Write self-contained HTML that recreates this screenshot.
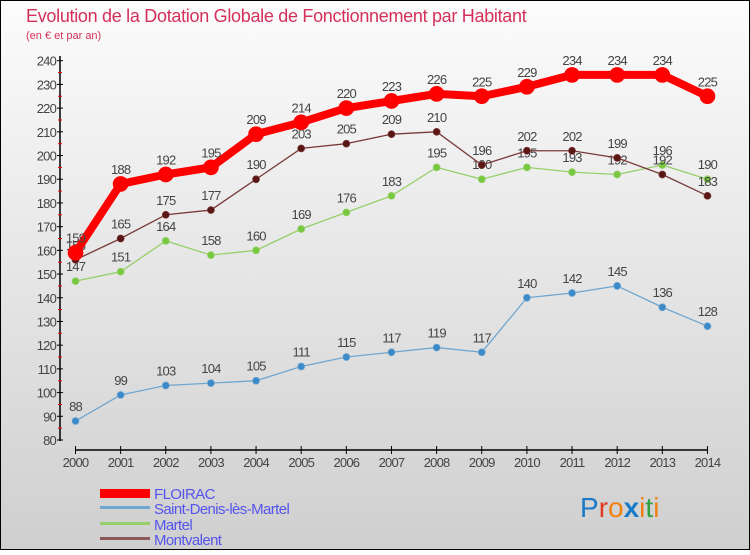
<!DOCTYPE html>
<html><head><meta charset="utf-8"><style>
body{margin:0;width:750px;height:550px;overflow:hidden;font-family:"Liberation Sans",sans-serif}
</style></head><body>
<svg id="chart" width="750" height="550" xmlns="http://www.w3.org/2000/svg">
<defs><linearGradient id="bg" x1="0" y1="0" x2="0" y2="1"><stop offset="0" stop-color="#fcfcfc"/><stop offset="1" stop-color="#cfcfcf"/></linearGradient></defs>
<rect x="0.5" y="0.5" width="749" height="549" fill="url(#bg)" stroke="#000"/>
<text x="26" y="22" font-size="18" fill="#d4305a" letter-spacing="-0.3">Evolution de la Dotation Globale de Fonctionnement par Habitant</text>
<text x="26" y="39" font-size="11" fill="#d4305a">(en € et par an)</text>
<g id="axes"></g><g id="series"></g>
<g>
<rect x="100" y="489" width="50" height="9" fill="#f00"/>
<text x="154" y="499" font-size="15" fill="#5555ee" letter-spacing="-0.6">FLOIRAC</text>
<rect x="100" y="506" width="50" height="3" fill="#6fa6d0"/>
<text x="154" y="514" font-size="15" fill="#5555ee" letter-spacing="-0.6">Saint-Denis-lès-Martel</text>
<rect x="100" y="522" width="50" height="3" fill="#95d06a"/>
<text x="154" y="530" font-size="15" fill="#5555ee" letter-spacing="-0.6">Martel</text>
<rect x="100" y="537" width="50" height="3" fill="#8a5a5a"/>
<text x="154" y="545" font-size="15" fill="#5555ee" letter-spacing="-0.6">Montvalent</text>
</g>
<text x="580" y="517" font-size="28"><tspan fill="#1a7ac8">P</tspan><tspan fill="#e03a20">r</tspan><tspan fill="#f08010">o</tspan><tspan fill="#1a7ac8" font-weight="bold">x</tspan><tspan fill="#f08010">i</tspan><tspan fill="#30a040">t</tspan><tspan fill="#f08010">i</tspan></text>
</svg>
<script>
const years=[2000,2001,2002,2003,2004,2005,2006,2007,2008,2009,2010,2011,2012,2013,2014];
const floirac=[159,188,192,195,209,214,220,223,226,225,229,234,234,234,225];
const saintDenis=[88,99,103,104,105,111,115,117,119,117,140,142,145,136,128];
const martel=[147,151,164,158,160,169,176,183,195,190,195,193,192,196,190];
const montvalent=[156,165,175,177,190,203,205,209,210,196,202,202,199,192,183];
const yTicks=[80,90,100,110,120,130,140,150,160,170,180,190,200,210,220,230,240];
const NS="http://www.w3.org/2000/svg";
const xs=i=>75.5+i*45.14;
const ys=v=>440-(v-80)*(379.3/160);
function mk(t,a,p){const e=document.createElementNS(NS,t);for(const k in a)e.setAttribute(k,a[k]);p.appendChild(e);return e;}
const ax=document.getElementById('axes');
let l=mk('line',{x1:60,y1:56,x2:60,y2:441,stroke:'#000','stroke-width':1.5},ax);


l=mk('line',{x1:75,y1:450,x2:708,y2:450,stroke:'#000','stroke-width':1.5},ax);


yTicks.forEach((v,i)=>{
  mk('line',{x1:57,y1:ys(v),x2:63,y2:ys(v),stroke:'#000'},ax);
  if(i<yTicks.length-1) mk('line',{x1:58,y1:ys(v+5),x2:62,y2:ys(v+5),stroke:'#e00'},ax);
  const t=mk('text',{x:56,y:ys(v)+5,'text-anchor':'end','font-size':13,fill:'#444','letter-spacing':'-0.8'},ax);
  t.textContent=v;
  
  
});
years.forEach((y,i)=>{
  mk('line',{x1:xs(i),y1:446,x2:xs(i),y2:454,stroke:'#000'},ax);
  const t=mk('text',{x:xs(i),y:467,'text-anchor':'middle','font-size':13,fill:'#444','letter-spacing':'-0.8'},ax);
  t.textContent=y;
  
  
});
const sg=document.getElementById('series');
function draw(vals,name,color,lw,r,dot){
  const g=mk('g',{},sg);
  
  
  const p=mk('polyline',{points:vals.map((v,i)=>xs(i)+','+ys(v)).join(' '),fill:'none',stroke:color,'stroke-width':lw,'stroke-linejoin':'round'},g);
  
  
  vals.forEach((v,i)=>{
    const c=mk('circle',{cx:xs(i),cy:ys(v),r:r,fill:dot,stroke:color,'stroke-width':0.7},g);
    
    
    const t=mk('text',{x:xs(i),y:ys(v)-10,'text-anchor':'middle','font-size':13,fill:'#444','letter-spacing':'-0.8'},g);
    t.textContent=v;
    
    
  });
}
draw(saintDenis,'saint-denis','#6fa6d0',1.3,3.5,'#3d8ac8');
draw(martel,'martel','#95d06a',1.3,3.5,'#78c840');
draw(montvalent,'montvalent','#7a3a3a',1.3,3.5,'#5a1515');
draw(floirac,'floirac','#f00',8,7.5,'#f00');
</script>
</body></html>
